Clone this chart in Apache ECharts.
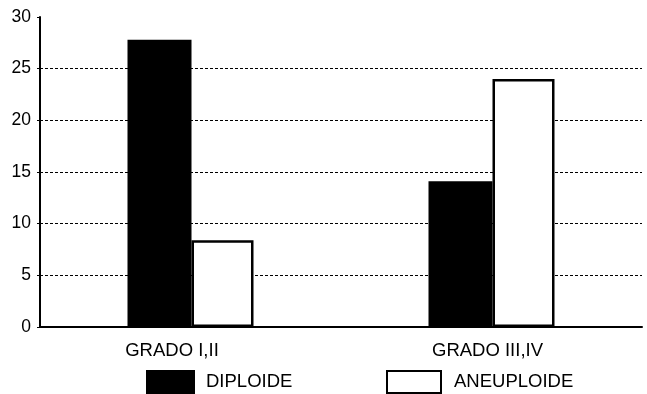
<!DOCTYPE html>
<html><head><meta charset="utf-8">
<script src="https://cdn.jsdelivr.net/npm/echarts@6/dist/echarts.min.js"></script>
<style>html,body{margin:0;padding:0;background:#fff}#c{width:647px;height:394px}</style>
</head><body><div id="c"></div>
<script>
const categories = ['GRADO I,II', 'GRADO III,IV'];
const diploide = [27.8, 14.1];
const aneuploide = [8.4, 24.0];
const yTicks = [0, 5, 10, 15, 20, 25, 30];

const chart = echarts.init(document.getElementById('c'));
const font = 'Liberation Sans, Arial, Helvetica, sans-serif';
const labelStyle = { fontFamily: font, fontSize: 18.5, color: '#000' };
chart.setOption({
  animation: false,
  backgroundColor: '#fff',
  grid: { left: 40, right: 5, top: 17, bottom: 67 },
  legend: [
    { data: ['DIPLOIDE'], left: 146, top: 370, padding: 0, icon: 'rect', itemWidth: 47, itemHeight: 22,
      textStyle: { fontFamily: font, fontSize: 18.5, color: '#000', padding: [0,0,0,7] } },
    { data: ['ANEUPLOIDE'], left: 386, top: 370, padding: 0, icon: 'rect', itemWidth: 54, itemHeight: 22,
      itemStyle: { borderWidth: 2, borderColor: '#000', color: '#fff' },
      textStyle: { fontFamily: font, fontSize: 18.5, color: '#000', padding: [0,0,0,8] } }
  ],
  xAxis: {
    type: 'category', data: categories,
    axisLine: { lineStyle: { color: '#000', width: 2 } },
    axisTick: { alignWithLabel: true, length: 6, lineStyle: { color: '#000', width: 2 } },
    axisLabel: {
      margin: 14,
      formatter: function (v, i) { return '{c' + i + '|' + v + '}'; },
      rich: {
        c0: Object.assign({ padding: [0, 37, 0, 0] }, labelStyle),
        c1: Object.assign({ padding: [0, 8, 0, 0] }, labelStyle)
      }
    }
  },
  yAxis: {
    type: 'value', min: yTicks[0], max: yTicks[yTicks.length - 1], interval: 5,
    axisLine: { show: true, lineStyle: { color: '#000', width: 2 } },
    axisTick: { show: true, length: 3, lineStyle: { color: '#000' } },
    axisLabel: { fontFamily: font, fontSize: 17.5, color: '#000', margin: 9 },
    splitLine: { show: true, lineStyle: { type: [3, 2], width: 1,
      color: ['#000', '#000', '#000', '#000', '#000', '#000', 'rgba(0,0,0,0)'] } }
  },
  series: [
    { name: 'DIPLOIDE', type: 'bar', data: diploide, barWidth: 64, barGap: 0,
      itemStyle: { color: '#000', borderColor: '#000', borderWidth: 2 } },
    { name: 'ANEUPLOIDE', type: 'bar', data: aneuploide, barWidth: 62, barGap: 0,
      itemStyle: { color: '#fff', borderColor: '#000', borderWidth: 2.5 } }
  ]
});
</script></body></html>
